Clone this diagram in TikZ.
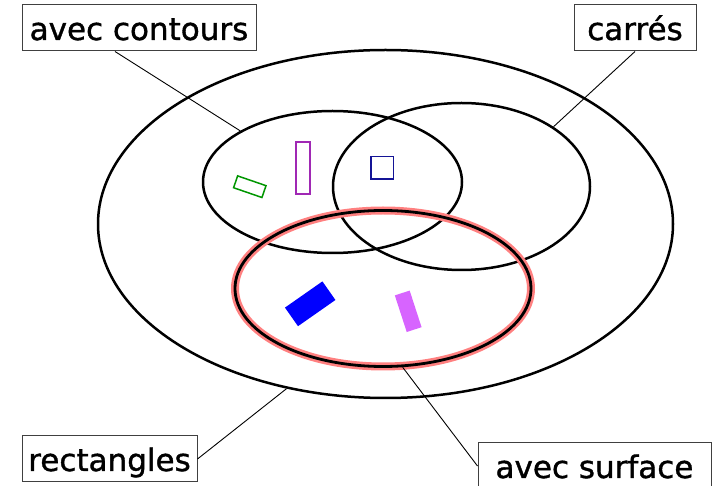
\documentclass[tikz,border=0pt]{standalone}
\usepackage{fontspec}
\setmainfont{DejaVu Sans}
\newfontfamily\tagfont[FakeBold=1.2]{DejaVu Sans}
\usetikzlibrary{shapes.geometric}
\definecolor{halo}{RGB}{255,128,128}
\definecolor{cgreen}{RGB}{0,150,0}
\definecolor{cpurple}{RGB}{160,40,180}
\definecolor{cnavy}{RGB}{20,20,150}
\definecolor{cblue}{RGB}{0,0,255}
\definecolor{cviolet}{RGB}{215,100,255}
\begin{document}
\begin{tikzpicture}[x=1pt,y=-1pt,
  setshape/.style={draw, ellipse, line width=2.5pt, inner sep=0pt},
  tagbox/.style={draw=black!75, line width=1pt, inner sep=0pt, minimum height=46pt,
    text height=35pt, text depth=11pt, font=\tagfont\fontsize{31}{36}\selectfont},
  link/.style={line width=0.9pt},
  outlinebox/.style={draw, rectangle, line width=1.5pt, inner sep=0pt},
  fillbox/.style={rectangle, inner sep=0pt}]
\useasboundingbox (0,0) rectangle (713,486);
% sets
\node[setshape, minimum width=575pt, minimum height=348pt] (outer) at (385.5,224) {};
\node[setshape, minimum width=259pt, minimum height=142pt] (left) at (332.5,182) {};
\node[setshape, minimum width=257pt, minimum height=167pt] (right) at (461.5,186.5) {};
\node[setshape, draw=halo, line width=8pt, minimum width=296pt, minimum height=156pt] (surfhalo) at (383,288.5) {};
\node[setshape, line width=2.8pt, minimum width=296pt, minimum height=156pt] (surf) at (383,288.5) {};
% rectangles
\node[outlinebox, draw=cgreen, minimum width=30pt, minimum height=12.5pt, rotate=-19] (g) at (249.8,186.7) {};
\node[outlinebox, draw=cpurple, line width=1.7pt, minimum width=14pt, minimum height=52pt] (p) at (302.7,167.7) {};
\node[outlinebox, draw=cnavy, minimum width=22.5pt, minimum height=22.5pt] (sq) at (382,168) {};
\node[fillbox, fill=cblue, minimum width=45.7pt, minimum height=22.7pt, rotate=35] (b) at (310.2,303.8) {};
\node[fillbox, fill=cviolet, minimum width=15.6pt, minimum height=38.5pt, rotate=18] (v) at (408.2,311.3) {};
% labels
\node[tagbox, minimum width=234pt] (tc) at (139,28) {avec contours};
\node[tagbox, minimum width=122pt] (tq) at (635,28) {carrés};
\node[tagbox, minimum width=175pt] (tr) at (109.5,459) {rectangles};
\node[tagbox, minimum width=233pt] (ts) at (594.5,466) {avec surface};
% connectors
\draw[link] ([xshift=-24pt]tc.south) -- (left.151);
\draw[link] (tq.south) -- (right.33);
\draw[link] (tr.east) -- (outer.239);
\draw[link] (ts.west) -- (surf.284);
\end{tikzpicture}
\end{document}
